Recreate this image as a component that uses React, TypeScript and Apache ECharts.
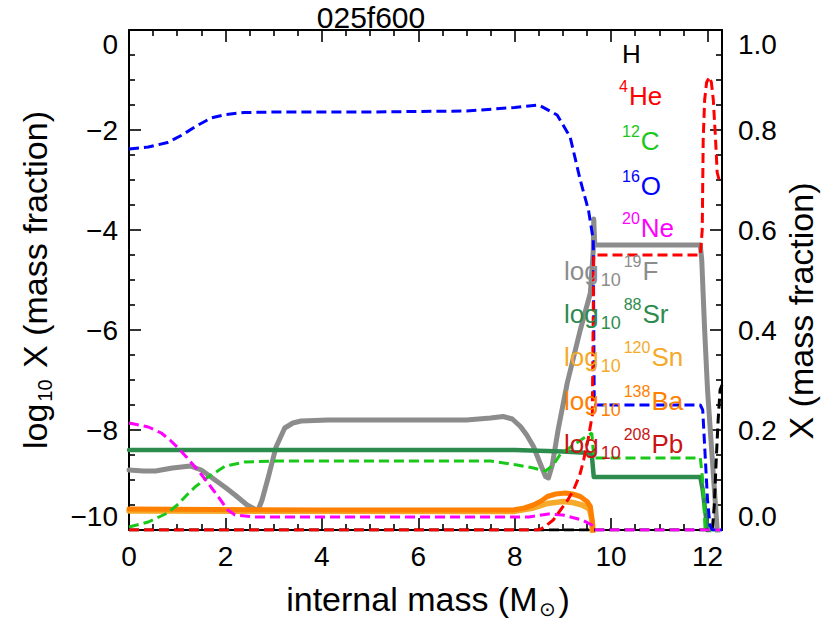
import React, { useEffect, useRef } from 'react';
import * as echarts from 'echarts';

const chartTitle = '025f600';
const xName = 'internal mass (M';
const xRange = [0, 12.3];
const leftRange = [-10, 0];
const rightRange = [0, 1];

// mass fractions (right axis) — [internal mass, X]
const hydrogen: [number, number][] = [
  [0, 0], [12.1, 0], [12.14, 0.05], [12.18, 0.14], [12.22, 0.22], [12.26, 0.28], [12.3, 0.29],
];
const helium4: [number, number][] = [
  [0, 0], [8.5, 0], [8.6, 0.005], [8.8, 0.02], [8.95, 0.04], [9.1, 0.06], [9.22, 0.08], [9.35, 0.11],
  [9.43, 0.14], [9.52, 0.18], [9.61, 0.23], [9.64, 0.55], [11.85, 0.55], [11.89, 0.6], [11.91, 0.78],
  [11.94, 0.86], [11.98, 0.895], [12.04, 0.906], [12.08, 0.895], [12.12, 0.86], [12.17, 0.774],
  [12.2, 0.715], [12.24, 0.7], [12.3, 0.7],
];
const carbon12: [number, number][] = [
  [0, 0.006], [0.4, 0.016], [0.8, 0.034], [1.0, 0.05], [1.2, 0.07], [1.37, 0.086], [1.64, 0.106],
  [2.0, 0.128], [2.4, 0.136], [3.0, 0.138], [7.5, 0.138], [8.05, 0.13], [8.39, 0.124], [8.64, 0.118],
  [8.8, 0.13], [8.95, 0.152], [9.22, 0.17], [9.45, 0.185], [9.6, 0.194], [9.64, 0.144], [11.85, 0.144],
  [11.9, 0.1], [11.95, 0.0], [12.3, 0.0],
];
const oxygen16: [number, number][] = [
  [0, 0.762], [0.4, 0.766], [0.8, 0.775], [1.1, 0.79], [1.4, 0.808], [1.7, 0.824], [2.0, 0.831],
  [2.4, 0.835], [3.0, 0.836], [5.0, 0.836], [7.0, 0.838], [8.0, 0.845], [8.5, 0.85], [8.88, 0.83],
  [9.15, 0.786], [9.36, 0.7], [9.53, 0.64], [9.63, 0.58], [9.65, 0.25], [11.85, 0.25], [11.9, 0.24],
  [11.95, 0.15], [12.0, 0.06], [12.05, 0.01], [12.1, 0.0], [12.3, 0.0],
];
const neon20: [number, number][] = [
  [0, 0.214], [0.4, 0.206], [0.67, 0.194], [0.85, 0.18], [1.02, 0.164], [1.2, 0.145], [1.37, 0.126],
  [1.55, 0.105], [1.7, 0.086], [1.9, 0.06], [2.05, 0.04], [2.2, 0.03], [2.6, 0.026], [8.3, 0.026],
  [8.7, 0.032], [9.0, 0.03], [9.4, 0.02], [9.6, 0.01], [9.65, 0], [12.3, 0],
];

// log10 mass fractions (left axis)
const fluorine19: [number, number][] = [
  [0, -8.8], [0.3, -8.82], [0.55, -8.82], [0.9, -8.76], [1.27, -8.72], [1.5, -8.8], [1.7, -8.94],
  [2.0, -9.15], [2.2, -9.3], [2.45, -9.5], [2.6, -9.58], [2.68, -9.6], [2.76, -9.4], [2.89, -8.94],
  [3.05, -8.34], [3.23, -7.96], [3.4, -7.86], [3.57, -7.82], [4.13, -7.8], [7.0, -7.8], [7.5, -7.76],
  [7.76, -7.73], [7.95, -7.78], [8.12, -7.93], [8.25, -8.1], [8.39, -8.33], [8.52, -8.65], [8.64, -8.93],
  [8.7, -8.96], [8.78, -8.7], [8.9, -8.0], [9.09, -7.06], [9.36, -6.0], [9.57, -5.26], [9.63, -4.4],
  [9.64, -3.78], [9.66, -4.3], [11.85, -4.3], [11.88, -4.6], [11.94, -6.0], [12.0, -7.2], [12.1, -8.6],
  [12.2, -10], [12.3, -10.5],
];
const strontium88: [number, number][] = [
  [0, -8.4], [8.0, -8.4], [9.0, -8.43], [9.55, -8.46], [9.6, -8.5], [9.64, -8.94], [11.85, -8.94],
  [11.9, -9.2], [12.0, -10], [12.3, -10.5],
];
const tin120: [number, number][] = [
  [0, -9.62], [7.97, -9.63], [8.39, -9.56], [8.68, -9.47], [9.0, -9.43], [9.2, -9.45], [9.4, -9.5],
  [9.55, -9.58], [9.6, -9.8], [9.63, -10.5], [12.3, -10.5],
];
const barium138: [number, number][] = [
  [0, -9.58], [4, -9.6], [7.97, -9.6], [8.2, -9.56], [8.39, -9.5], [8.55, -9.42], [8.68, -9.33],
  [8.85, -9.28], [9.05, -9.26], [9.2, -9.28], [9.36, -9.33], [9.5, -9.43], [9.57, -9.53], [9.62, -9.9],
  [9.64, -10.5], [12.3, -10.5],
];
const lead208: [number, number][] = [
  [0, -10.4], [12.3, -10.4],
];

const FONT = '"Liberation Sans", Arial, Helvetica, sans-serif';

function richFor(main: number, sup: number, sub: number, lh: number) {
  return {
    m: { fontSize: main, lineHeight: lh, fontFamily: FONT },
    p: { fontSize: sup, lineHeight: Math.round(lh * 0.66), verticalAlign: 'top', fontFamily: FONT, padding: [0, 1, 0, 1] },
    s: { fontSize: sub, lineHeight: sub + 1, verticalAlign: 'bottom', fontFamily: FONT, padding: [0, 2, 0, 2] },
  };
}

function label(text: string, x: number, y: number, color: string) {
  return {
    type: 'text',
    x,
    y,
    z: 100,
    style: {
      text,
      fill: color,
      align: 'left',
      verticalAlign: 'middle',
      fontFamily: FONT,
      fontSize: 26,
      rich: richFor(26, 16, 18, 36),
    },
  };
}

const legendItems = [
  { t: '{m|H}', x: 622, y: 54, c: '#000000' },
  { t: '{p|4}{m|He}', x: 618, y: 96, c: '#ff0000' },
  { t: '{p|12}{m|C}', x: 621, y: 141, c: '#19c819' },
  { t: '{p|16}{m|O}', x: 621, y: 186, c: '#0000ff' },
  { t: '{p|20}{m|Ne}', x: 621, y: 228, c: '#ff00ff' },
  { t: '{m|log}{s|10}{p|19}{m|F}', x: 564, y: 271, c: '#8c8c8c' },
  { t: '{m|log}{s|10}{p|88}{m|Sr}', x: 564, y: 314, c: '#2e8b4e' },
  { t: '{m|log}{s|10}{p|120}{m|Sn}', x: 564, y: 357, c: '#f5aa2a' },
  { t: '{m|log}{s|10}{p|138}{m|Ba}', x: 564, y: 401, c: '#ff8000' },
  { t: '{m|log}{s|10}{p|208}{m|Pb}', x: 564, y: 444, c: '#c81414' },
];

const axisCommon = {
  type: 'value' as const,
  splitLine: { show: false },
  axisLine: { show: true, onZero: false, lineStyle: { color: '#000', width: 2 } },
  axisTick: { show: true, inside: true, length: 12, lineStyle: { color: '#000', width: 1.6 } },
  minorTick: { show: true, splitNumber: 4, length: 6, lineStyle: { color: '#000', width: 1.6 } },
};

const tickFont = { fontSize: 28, color: '#000', fontFamily: FONT };

function solid(name: string, data: [number, number][], color: string, width: number) {
  return {
    name,
    type: 'line',
    yAxisIndex: 0,
    data,
    showSymbol: false,
    symbol: 'none',
    clip: true,
    lineStyle: { color, width, cap: 'round', join: 'round' },
    z: 2,
  };
}
function dashed(name: string, data: [number, number][], color: string) {
  return {
    name,
    type: 'line',
    yAxisIndex: 1,
    data,
    showSymbol: false,
    symbol: 'none',
    clip: true,
    lineStyle: { color, width: 3, type: [10, 5] },
    z: 3,
  };
}

export default function App() {
  const ref = useRef<HTMLDivElement>(null);
  useEffect(() => {
    document.body.style.margin = '0';
    const chart = echarts.init(ref.current!, undefined, { renderer: 'svg' });
    chart.setOption({
      animation: false,
      backgroundColor: '#ffffff',
      grid: { left: 129, top: 30, right: 108, bottom: 93, containLabel: false },
      xAxis: [
        {
          ...axisCommon,
          position: 'bottom',
          min: xRange[0],
          max: xRange[1],
          interval: 2,
          axisLabel: {
            ...tickFont,
            margin: 12,
            showMaxLabel: false,
            formatter: (v: number) => (Math.abs(v / 2 - Math.round(v / 2)) < 1e-9 ? String(v) : ''),
          },
        },
        {
          ...axisCommon,
          position: 'top',
          min: xRange[0],
          max: xRange[1],
          interval: 2,
          axisLabel: { show: false },
        },
      ],
      yAxis: [
        {
          ...axisCommon,
          position: 'left',
          min: leftRange[0],
          max: leftRange[1],
          interval: 2,
          axisLabel: {
            ...tickFont,
            margin: 11,
            verticalAlignMinLabel: 'bottom',
            verticalAlignMaxLabel: 'top',
            formatter: (v: number) => String(v).replace('-', '\u2212'),
          },
        },
        {
          ...axisCommon,
          position: 'right',
          min: rightRange[0],
          max: rightRange[1],
          interval: 0.2,
          axisLabel: {
            ...tickFont,
            margin: 16,
            verticalAlignMinLabel: 'bottom',
            verticalAlignMaxLabel: 'top',
            formatter: (v: number) => v.toFixed(1),
          },
        },
      ],
      series: [
        solid('log10 19F', fluorine19, '#8c8c8c', 5),
        solid('log10 208Pb', lead208, '#c81414', 4.5),
        solid('log10 88Sr', strontium88, '#2e8b4e', 4.5),
        solid('log10 120Sn', tin120, '#f5aa2a', 5.5),
        solid('log10 138Ba', barium138, '#ff8000', 5),
        dashed('H', hydrogen, '#000000'),
        dashed('12C', carbon12, '#19c819'),
        dashed('20Ne', neon20, '#ff00ff'),
        dashed('16O', oxygen16, '#0000ff'),
        dashed('4He', helium4, '#ff0000'),
      ],
      graphic: [
        {
          type: 'text',
          x: 371,
          y: 17,
          style: { text: chartTitle, fill: '#000', fontSize: 30, fontFamily: FONT, align: 'center', verticalAlign: 'middle' },
        },
        {
          type: 'text',
          x: 428,
          y: 599,
          style: {
            text: `{m|${xName}}{s|\u2299}{m|)}`,
            fill: '#000',
            align: 'center',
            verticalAlign: 'middle',
            fontFamily: FONT,
            fontSize: 34,
            rich: richFor(34, 18, 20, 40),
          },
        },
        {
          type: 'text',
          x: 35,
          y: 280,
          rotation: Math.PI / 2,
          style: {
            text: '{m|log}{s|10}{m| X (mass fraction)}',
            fill: '#000',
            align: 'center',
            verticalAlign: 'middle',
            fontFamily: FONT,
            fontSize: 34,
            rich: richFor(34, 18, 20, 40),
          },
        },
        {
          type: 'text',
          x: 801,
          y: 311,
          rotation: Math.PI / 2,
          style: {
            text: 'X (mass fraction)',
            fill: '#000',
            align: 'center',
            verticalAlign: 'middle',
            fontFamily: FONT,
            fontSize: 34,
          },
        },
        ...legendItems.map((l) => label(l.t, l.x, l.y, l.c)),
      ],
    });
    return () => chart.dispose();
  }, []);
  return <div ref={ref} style={{ width: 830, height: 623 }} />;
}
